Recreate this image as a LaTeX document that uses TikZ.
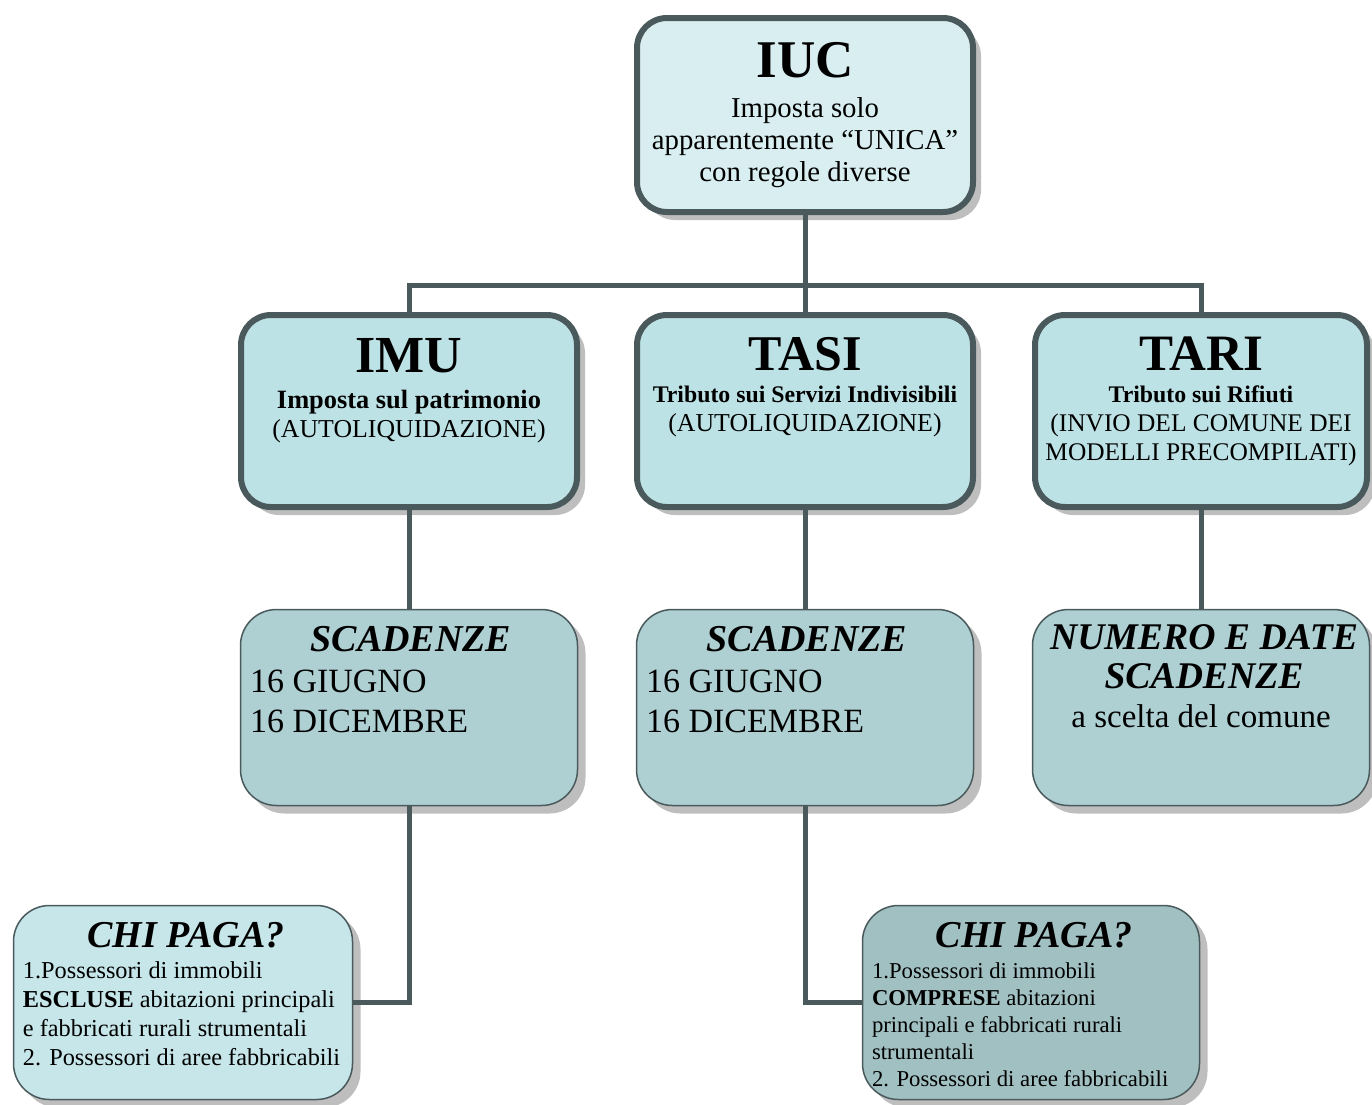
\documentclass[tikz,border=0pt]{standalone}
\usepackage{fontspec}
\setmainfont{Liberation Serif}
\usetikzlibrary{shadows}
\definecolor{bord}{RGB}{74,90,92}
\definecolor{iucfill}{RGB}{217,238,240}
\definecolor{midfill}{RGB}{189,226,229}
\definecolor{scadfill}{RGB}{174,208,211}
\definecolor{chiafill}{RGB}{198,230,233}
\definecolor{chibfill}{RGB}{161,192,194}
\definecolor{shadowc}{RGB}{190,190,190}
\newcommand{\fs}[2]{\fontsize{#1}{#2}\selectfont}
\tikzset{
  boxbase/.style={draw=bord, inner sep=0pt, outer sep=0pt,
    drop shadow={shadow xshift=8pt, shadow yshift=-8pt, fill=shadowc, opacity=1}},
  thickbox/.style={boxbase, line width=6pt, rounded corners=30pt},
  thinbox/.style={boxbase, line width=1.5pt, rounded corners=36pt},
  link/.style={draw=bord, line width=5pt},
  txt/.style={inner sep=0pt, outer sep=0pt, anchor=base, align=center, text=black},
  ltxt/.style={inner sep=0pt, outer sep=0pt, anchor=base west, align=left, text=black},
}
\begin{document}
\begin{tikzpicture}[x=1pt,y=-1pt]
\useasboundingbox (0,0) rectangle (1372,1104);
% boxes
\node[thickbox, fill=iucfill, minimum width=336pt, minimum height=194pt] (iuc) at (805,115) {};
\node[thickbox, fill=midfill, minimum width=336pt, minimum height=192pt] (imu) at (409,411) {};
\node[thickbox, fill=midfill, minimum width=336pt, minimum height=192pt] (tasi) at (805,411) {};
\node[thickbox, fill=midfill, minimum width=332pt, minimum height=192pt] (tari) at (1201,411) {};
\node[thinbox, fill=scadfill, minimum width=337pt, minimum height=196pt] (scada) at (409,707.5) {};
\node[thinbox, fill=scadfill, minimum width=337pt, minimum height=196pt] (scadb) at (805,707.5) {};
\node[thinbox, fill=scadfill, minimum width=337pt, minimum height=196pt] (scadc) at (1201,707.5) {};
\node[thinbox, fill=chiafill, minimum width=339pt, minimum height=194pt] (chia) at (183,1002.5) {};
\node[thinbox, fill=chibfill, minimum width=337pt, minimum height=194pt] (chib) at (1031,1002.5) {};
% connectors
\coordinate (bus) at (805,285);
\draw[link] (iuc.south) -- (bus);
\draw[link] (imu.north) |- (bus) -| (tari.north);
\draw[link] (bus) -- (tasi.north);
\draw[link] (imu.south) -- (scada.north);
\draw[link] (tasi.south) -- (scadb.north);
\draw[link] (tari.south) -- (scadc.north);
\draw[link] (scada.south) |- (chia.east);
\draw[link] (scadb.south) |- (chib.west);
% texts (base anchor of a multi-line node = baseline of its last line)
\node[txt, font=\fs{53}{53}\bfseries] (tiuc) at (805,77) {IUC};
\node[txt, font=\fs{28.8}{32}] (tiucb) at (805,181) {Imposta solo\\apparentemente “UNICA”\\con regole diverse};
\node[txt, font=\fs{52}{52}\bfseries] (timu) at (409,372) {IMU};
\node[txt, font=\fs{25.8}{29}] (timub) at (409,437) {{\fs{26.4}{29}\bfseries Imposta sul patrimonio}\\(AUTOLIQUIDAZIONE)};
\node[txt, font=\fs{50}{50}\bfseries] (ttasi) at (805,370) {TASI};
\node[txt, font=\fs{25.8}{29}] (ttasib) at (805,431) {{\fs{23.8}{29}\bfseries Tributo sui Servizi Indivisibili}\\(AUTOLIQUIDAZIONE)};
\node[txt, font=\fs{51}{51}\bfseries] (ttari) at (1201,370) {TARI};
\node[txt, font=\fs{25.4}{29}] (ttarib) at (1201,460) {{\fs{23.8}{29}\bfseries Tributo sui Rifiuti}\\(INVIO DEL COMUNE DEI\\MODELLI PRECOMPILATI)};
\node[txt, font=\fs{38}{39}\bfseries\itshape] (tscada) at (411,651) {SCADENZE};
\node[ltxt, font=\fs{34}{40}] (tscadab) at (250,732) {16 GIUGNO\\16 DICEMBRE};
\node[txt, font=\fs{38}{39}\bfseries\itshape] (tscadb) at (807,651) {SCADENZE};
\node[ltxt, font=\fs{34}{40}] (tscadbb) at (646,732) {16 GIUGNO\\16 DICEMBRE};
\node[txt, font=\fs{37.7}{39}\bfseries\itshape] (tscadc) at (1204,688) {NUMERO E DATE\\SCADENZE};
\node[txt, font=\fs{33}{40}] (tscadcb) at (1201,727) {a scelta del comune};
\node[txt, font=\fs{38}{39}\bfseries\itshape] (tchia) at (186,947) {CHI PAGA?};
\node[ltxt, font=\fs{24.3}{29}] (tchiab) at (23,1065) {1.Possessori di immobili\\\textbf{ESCLUSE} abitazioni principali\\e fabbricati rurali strumentali\\2. Possessori di aree fabbricabili};
\node[txt, font=\fs{38}{39}\bfseries\itshape] (tchib) at (1034,947) {CHI PAGA?};
\node[ltxt, font=\fs{22.7}{27}] (tchibb) at (872,1086) {1.Possessori di immobili\\\textbf{COMPRESE} abitazioni\\principali e fabbricati rurali\\strumentali\\2. Possessori di aree fabbricabili};
\end{tikzpicture}
\end{document}
